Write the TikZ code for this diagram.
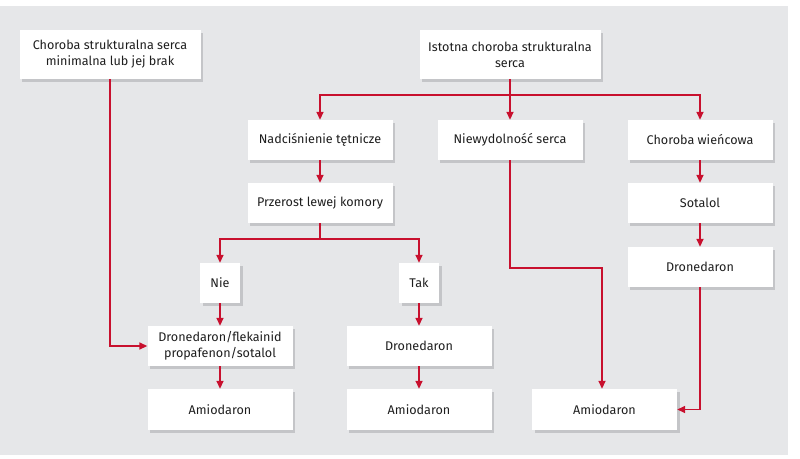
\documentclass[tikz,border=0pt]{standalone}
\usepackage{fontspec}
\setmainfont{Fira Sans}
\usetikzlibrary{arrows.meta,shadows}
\definecolor{bgc}{HTML}{E6E7E9}
\definecolor{redc}{HTML}{C8102E}
\definecolor{txtc}{HTML}{1E1E1E}
\definecolor{shc}{HTML}{C4C5C8}
\begin{document}
\begin{tikzpicture}[x=1pt,y=-1pt,
  box/.style={fill=white, draw=none, text=txtc, align=center, inner sep=0pt,
    minimum width=145pt, minimum height=40pt, font=\fontsize{12.6}{16}\selectfont,
    copy shadow={shadow xshift=2.5pt, shadow yshift=-2.5pt, fill=shc, draw=none}},
  arr/.style={draw=redc, line width=1.6pt, -{Triangle[length=8pt,width=7pt]}},
  ln/.style={draw=redc, line width=1.6pt}]
\useasboundingbox (0,0) rectangle (800,458);
\fill[white] (0,0) rectangle (800,458);
\fill[bgc] (0,6) rectangle (788,455);
\node[box, minimum width=181pt, minimum height=49pt] (b1) at (110,54.5) {Choroba strukturalna serca\\minimalna lub jej brak};
\node[box, minimum width=181pt, minimum height=49pt] (b2) at (510,54.5) {Istotna choroba strukturalna\\serca};
\node[box] (nadc) at (320,140) {Nadciśnienie tętnicze};
\node[box] (niew) at (510,140) {Niewydolność serca};
\node[box] (chw) at (700,140) {Choroba wieńcowa};
\node[box] (prz) at (320,203) {Przerost lewej komory};
\node[box] (sot) at (700,203) {Sotalol};
\node[box, minimum width=40pt] (nie) at (220,283) {Nie};
\node[box, minimum width=40pt] (tak) at (419,283) {Tak};
\node[box] (dfl) at (220,346) {Dronedaron/flekainid\\propafenon/sotalol};
\node[box] (dmid) at (419,346) {Dronedaron};
\node[box] (dr) at (700,267) {Dronedaron};
\node[box, minimum height=41pt] (aml) at (220,409.5) {Amiodaron};
\node[box, minimum height=41pt] (amm) at (419,409.5) {Amiodaron};
\node[box, minimum height=41pt] (amr) at (604.5,409.5) {Amiodaron};
\coordinate (j1) at (510,95);
\coordinate (j2) at (320,239);
\coordinate (k1) at (602,268);
\draw[ln] (b2) -- (j1);
\draw[arr] (j1) -| (nadc);
\draw[arr] (j1) -| (chw);
\draw[arr] (j1) -- (niew);
\draw[arr] (nadc) -- (prz);
\draw[ln] (prz) -- (j2);
\draw[arr] (j2) -| (nie);
\draw[arr] (j2) -| (tak);
\draw[arr] (nie) -- (dfl);
\draw[arr] (dfl) -- (aml);
\draw[arr] (tak) -- (dmid);
\draw[arr] (dmid) -- (amm);
\draw[arr] (b1) |- (dfl);
\draw[arr] (niew) |- (k1) -- (k1 |- amr.north);
\draw[arr] (chw) -- (sot);
\draw[arr] (sot) -- (dr);
\draw[arr] (dr) |- (amr);
\end{tikzpicture}
\end{document}
